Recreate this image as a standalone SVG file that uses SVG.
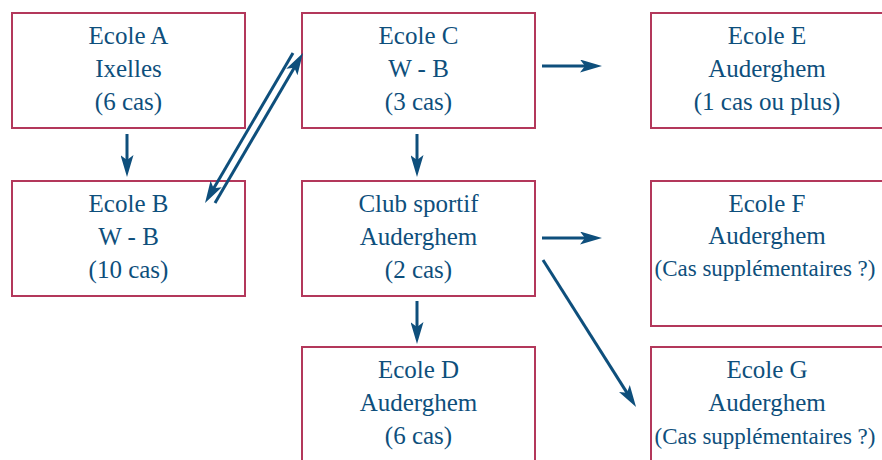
<svg xmlns="http://www.w3.org/2000/svg" width="882" height="460" viewBox="0 0 882 460">
<style>
.box{fill:#ffffff;stroke:#b3385b;stroke-width:2}
.t{font-size:25px;fill:#0e4f7c;text-anchor:middle}
.s{font-size:23px}
.c{stroke:#0e4f7c;stroke-width:3;fill:none;marker-end:url(#ah)}
</style>
<defs>
<marker id="ah" viewBox="0 0 22 13" refX="12" refY="6.5" markerWidth="22" markerHeight="13" markerUnits="userSpaceOnUse" orient="auto">
<path d="M22,6.5 L0,0 L5,6.5 L0,13 Z" fill="#0e4f7c"/>
</marker>
</defs>
<rect width="882" height="460" fill="#ffffff"/>
<g font-family="Liberation Serif, DejaVu Serif, serif">
<g id="ecoleA"><rect class="box" x="12" y="13" width="233" height="115"/>
<text class="t" x="128.5" y="44">Ecole A</text><text class="t" x="128.5" y="77">Ixelles</text><text class="t" x="128.5" y="110">(6 cas)</text></g>
<g id="ecoleB"><rect class="box" x="12" y="181" width="233" height="115"/>
<text class="t" x="128.5" y="212">Ecole B</text><text class="t" x="128.5" y="245">W - B</text><text class="t" x="128.5" y="278">(10 cas)</text></g>
<g id="ecoleC"><rect class="box" x="302" y="13" width="233" height="115"/>
<text class="t" x="418.5" y="44">Ecole C</text><text class="t" x="418.5" y="77">W - B</text><text class="t" x="418.5" y="110">(3 cas)</text></g>
<g id="club"><rect class="box" x="302" y="181" width="233" height="115"/>
<text class="t" x="418.5" y="212">Club sportif</text><text class="t" x="418.5" y="245">Auderghem</text><text class="t" x="418.5" y="278">(2 cas)</text></g>
<g id="ecoleD"><rect class="box" x="302" y="347" width="233" height="130"/>
<text class="t" x="418.5" y="378">Ecole D</text><text class="t" x="418.5" y="411">Auderghem</text><text class="t" x="418.5" y="444">(6 cas)</text></g>
<g id="ecoleE"><rect class="box" x="651" y="13" width="232" height="115"/>
<text class="t" x="767" y="44">Ecole E</text><text class="t" x="767" y="77">Auderghem</text><text class="t" x="767" y="110">(1 cas ou plus)</text></g>
<g id="ecoleF"><rect class="box" x="651" y="181" width="232" height="145"/>
<text class="t" x="767" y="212">Ecole F</text><text class="t" x="767" y="244">Auderghem</text><text class="t s" x="765" y="276">(Cas supplémentaires ?)</text></g>
<g id="ecoleG"><rect class="box" x="651" y="347" width="232" height="130"/>
<text class="t" x="767" y="378">Ecole G</text><text class="t" x="767" y="411">Auderghem</text><text class="t s" x="765" y="444">(Cas supplémentaires ?)</text></g>
</g>
<g id="connectors">
<line class="c" x1="127" y1="134" x2="127" y2="167"/>
<line class="c" x1="417" y1="134" x2="417" y2="167"/>
<line class="c" x1="417" y1="301" x2="417" y2="334"/>
<line class="c" x1="542" y1="66" x2="592" y2="66"/>
<line class="c" x1="542" y1="238" x2="592" y2="238"/>
<line class="c" x1="543" y1="260" x2="630.7" y2="398.6"/>
<line class="c" x1="293" y1="53" x2="210.1" y2="194.4"/>
<line class="c" x1="215" y1="203" x2="297.9" y2="61.6"/>
</g>
</svg>
